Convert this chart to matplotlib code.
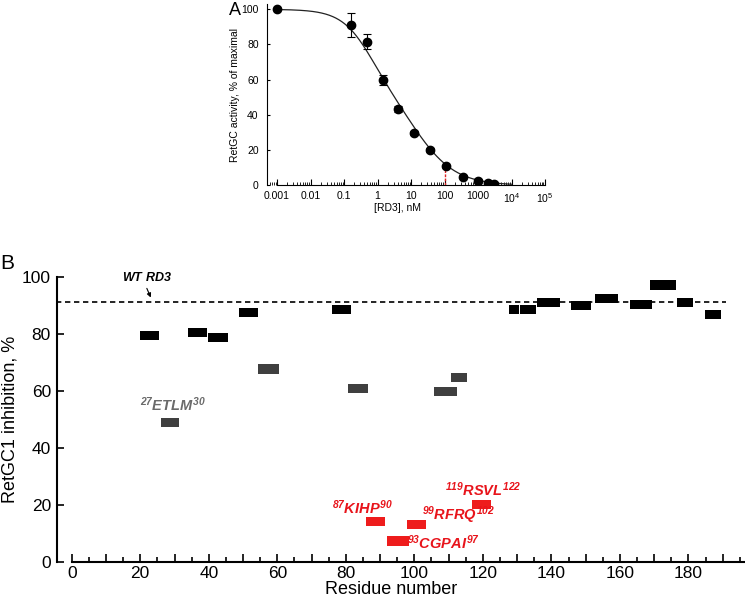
import matplotlib
matplotlib.use("Agg")
import matplotlib.pyplot as plt
from matplotlib.ticker import MultipleLocator, LogLocator, NullFormatter, FixedLocator
import numpy as np

plt.rcParams['font.family'] = ['Liberation Sans', 'DejaVu Sans']
plt.rcParams['mathtext.fontset'] = 'custom'
plt.rcParams['mathtext.it'] = 'Liberation Sans:bold:italic'
plt.rcParams['mathtext.rm'] = 'Liberation Sans:bold:italic'
plt.rcParams['mathtext.bf'] = 'Liberation Sans:bold:italic'

# panel A: dose response
rd3_nm = [0.001, 0.166, 0.47, 1.45, 4.1, 12.5, 37, 113, 345, 975, 1920, 2970]
activity = [100, 91.1, 81.6, 59.8, 43.2, 29.8, 20.1, 10.8, 4.9, 2.5, 1.5, 1.0]
activity_err = [0, 7.0, 4.3, 2.8, 1.8, 1.2, 1.0, 1.0, 0.8, 0.8, 0.6, 0.5]
# fitted curve parameters (two-site)
fit_frac, fit_c1, fit_n1, fit_c2, fit_n2 = 0.4, 0.55, 1.0, 14.0, 0.7
xtick_vals = [1e-3, 1e-2, 1e-1, 1, 10, 100, 1000, 1e4, 1e5]
xtick_txt = ['0.001', '0.01', '0.1', '1', '10', '100', '1000',
             r'$\mathdefault{10^4}$', r'$\mathdefault{10^5}$']

# panel B: mutant scan
seg_lo = [19.9, 26.1, 33.9, 39.8, 48.8, 54.4, 76.0, 80.7, 85.9, 91.9, 97.8, 105.8,
          110.7, 116.8, 127.6, 130.9, 135.7, 145.8, 152.8, 162.8, 168.8, 176.7, 184.8]
seg_hi = [25.5, 31.3, 39.5, 45.6, 54.4, 60.5, 81.5, 86.5, 91.4, 98.4, 103.4, 112.5,
          115.4, 122.4, 130.5, 135.4, 142.5, 151.5, 159.5, 169.5, 176.4, 181.3, 189.4]
inhibition = [79.5, 48.7, 80.5, 78.6, 87.5, 67.6, 88.6, 60.6, 14.0, 7.2, 13.1, 59.6,
              64.7, 20.1, 88.6, 88.6, 91.0, 90.0, 92.2, 90.2, 97.1, 91.0, 86.8]
group = ['k', 'g', 'k', 'k', 'k', 'g', 'k', 'g', 'r', 'r', 'r', 'g',
         'g', 'r', 'k', 'k', 'k', 'k', 'k', 'k', 'k', 'k', 'k']
wt_level = 91.0
labels = [r'$^{27}ETLM^{30}$', r'$^{87}KIHP^{90}$', r'$^{93}CGPAI^{97}$',
          r'$^{99}RFRQ^{102}$', r'$^{119}RSVL^{122}$']
label_x = [29.6, 84.9, 108.5, 112.8, 120.1]
label_y = [55.0, 18.8, 6.7, 16.3, 25.1]
label_col = ['g', 'r', 'r', 'r', 'r']

bar_colors = {'k': '#000000', 'g': '#3f3f3f', 'r': '#ee1c1c'}
text_colors = {'g': '#6a6a6a', 'r': '#e8141b'}

fig = plt.figure(figsize=(7.45, 6.03), dpi=100)

# ---------- A ----------
axA = fig.add_axes([267/745, 1-185.3/603, 279.7/745, 181.3/603])
xs = np.logspace(-3, 4, 400)
fit = 100*(fit_frac/(1+(xs/fit_c1)**fit_n1) + (1-fit_frac)/(1+(xs/fit_c2)**fit_n2))
axA.plot(xs, fit, color='#222222', lw=0.9)
axA.errorbar(rd3_nm, activity, yerr=activity_err, fmt='o', color='black',
             ms=6, capsize=3, elinewidth=0.8, capthick=0.8)
axA.plot([100, 100], [0, 10], color='#dd2222', lw=1, ls=(0, (2, 1)))
axA.set_xscale('log')
axA.set_xlim(10**-3.3, 10**5.05)
axA.set_ylim(0, 103)
axA.spines['top'].set_visible(False)
axA.spines['right'].set_visible(False)
axA.spines['bottom'].set_bounds(1e-3, 1e5)
for s in ['left', 'bottom']:
    axA.spines[s].set_linewidth(0.8)
axA.xaxis.set_major_locator(FixedLocator(xtick_vals))
axA.set_xticklabels(xtick_txt)
axA.xaxis.set_minor_locator(LogLocator(base=10, subs=np.arange(2, 10), numticks=20))
axA.xaxis.set_minor_formatter(NullFormatter())
axA.set_yticks([0, 20, 40, 60, 80, 100])
axA.tick_params(axis='x', which='major', direction='in', length=4, width=0.8,
                labelsize=7.5, pad=4)
axA.tick_params(axis='x', which='minor', direction='in', length=2, width=0.6)
axA.tick_params(axis='y', direction='in', length=2.5, width=0.8, labelsize=7.5, pad=6)
axA.set_xlabel('[RD3], nM', fontsize=7.5)
axA.xaxis.set_label_coords(0.468, -0.1)
axA.set_ylabel('RetGC activity, % of maximal', fontsize=7.5)
axA.yaxis.set_label_coords(-0.095, 0.5)

# ---------- B ----------
axB = fig.add_axes([56.5/745, 1-561.5/603, 688.5/745, 284.8/603])
widths = [h - l for l, h in zip(seg_lo, seg_hi)]
axB.barh(inhibition, widths, left=seg_lo, height=3.2,
         color=[bar_colors[g] for g in group], zorder=3)
axB.plot([-4.44, 190.9], [wt_level, wt_level], color='black', lw=1.2,
         ls=(0, (3.2, 2.2)), zorder=2, clip_on=False)
axB.set_xlim(-4.44, 196.5)
axB.set_ylim(0, 100)
axB.spines['top'].set_visible(False)
axB.spines['right'].set_visible(False)
axB.spines['bottom'].set_bounds(0, 196.5)
for s in ['left', 'bottom']:
    axB.spines[s].set_linewidth(1.5)
axB.xaxis.set_minor_locator(MultipleLocator(5))
axB.set_xticks(np.arange(0, 200, 10))
axB.set_xticklabels([str(v) if v % 20 == 0 else '' for v in range(0, 200, 10)])
axB.set_yticks([0, 20, 40, 60, 80, 100])
axB.tick_params(axis='x', which='major', direction='in', length=6, width=1.2,
                labelsize=12.5, pad=3.5)
axB.tick_params(axis='x', which='minor', direction='in', length=3.5, width=1.2)
axB.tick_params(axis='y', direction='in', length=5, width=1.2, labelsize=12.5, pad=4)
axB.set_xlabel('Residue number', fontsize=13)
axB.xaxis.set_label_coords(0.486, -0.07)
axB.set_ylabel('RetGC1 inhibition, %', fontsize=13)
axB.yaxis.set_label_coords(-0.055, 0.5)

for t, x, y, c in zip(labels, label_x, label_y, label_col):
    axB.text(x, y, t, color=text_colors[c], fontsize=10.5, ha='center', va='center')
axB.text(21.9, 99.6, r'$WT\ RD3$', fontsize=9, ha='center', va='center', clip_on=False)
axB.annotate('', xy=(23.4, 91.8), xytext=(21.6, 96.8),
             arrowprops=dict(arrowstyle='-|>', lw=0.8, color='black', mutation_scale=6),
             annotation_clip=False)

fig.text(229/745, 1-2/603, 'A', fontsize=13, va='top', ha='left')
fig.text(0/745, 1-254/603, 'B', fontsize=15, va='top', ha='left')

fig.savefig('out.png', dpi=100)
